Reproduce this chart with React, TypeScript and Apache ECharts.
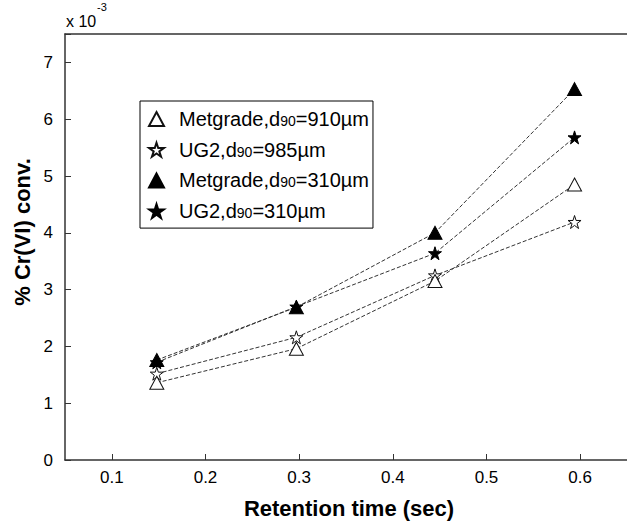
import React, { useEffect, useRef } from "react";
import * as echarts from "echarts";

// Retention time (sec) of each sample
const retentionTime = [0.148, 0.297, 0.445, 0.594];

// % Cr(VI) conversion, in units of 1e-3
const metgrade910 = [1.36, 1.96, 3.15, 4.85];
const ug2_985 = [1.52, 2.16, 3.25, 4.19];
const metgrade310 = [1.76, 2.69, 4.0, 6.53];
const ug2_310 = [1.72, 2.7, 3.64, 5.68];

const xTicks = [0.1, 0.2, 0.3, 0.4, 0.5, 0.6];

// legend pieces: material name and d90 size
const seriesNames = ["Metgrade", "UG2", "Metgrade", "UG2"];
const seriesSizes = ["910", "985", "310", "310"];

const FONT = "'Liberation Sans', Arial, Helvetica, sans-serif";
const STAR =
  "path://M0,-10 L2.245,-3.09 L9.51,-3.09 L3.633,1.18 L5.88,8.09 L0,3.82 L-5.88,8.09 L-3.633,1.18 L-9.51,-3.09 L-2.245,-3.09 Z";

const hollow = { color: "#fff", borderColor: "#111", borderWidth: 1 };
const filled = { color: "#000", borderColor: "#000", borderWidth: 1 };

export default function App() {
  const ref = useRef<HTMLDivElement>(null);

  useEffect(() => {
    if (!ref.current) return;
    const chart = echarts.init(ref.current, null, { renderer: "svg" });

    const label = (i: number) => `${seriesNames[i]},d90=${seriesSizes[i]}µm`;
    const values = [metgrade910, ug2_985, metgrade310, ug2_310];
    const symbols = ["triangle", STAR, "triangle", STAR];
    const styles = [hollow, hollow, filled, filled];
    const sizes = [[14, 13], [13, 13], [14, 13], [13, 13]];

    const series = values.map((vals, i) => ({
      name: label(i),
      type: "line",
      data: vals.map((v, j) => [retentionTime[j], v]),
      symbol: symbols[i],
      symbolSize: sizes[i],
      showAllSymbol: true,
      itemStyle: styles[i],
      lineStyle: { color: "#333", width: 1, type: [4, 2] },
      z: 10 - i,
    }));

    chart.setOption({
      animation: false,
      backgroundColor: "#fff",
      grid: { left: 65, top: 34, right: -4, bottom: 65 },
      xAxis: [
        {
          type: "value",
          min: 0.05,
          max: 0.65,
          axisLine: { show: true, lineStyle: { color: "#333", width: 1.5 } },
          axisTick: { show: true, inside: true, length: 6, customValues: xTicks, lineStyle: { color: "#333" } },
          axisLabel: {
            customValues: xTicks,
            formatter: (v: number) => v.toFixed(1),
            fontSize: 17,
            color: "#000",
            fontFamily: FONT,
            margin: 9,
          },
          splitLine: { show: false },
        },
        {
          type: "value",
          position: "top",
          min: 0.05,
          max: 0.65,
          axisLine: { show: true, onZero: false, lineStyle: { color: "#333", width: 1.5 } },
          axisTick: { show: false },
          axisLabel: { show: false },
          splitLine: { show: false },
        },
      ],
      yAxis: {
        type: "value",
        min: 0,
        max: 7.5,
        interval: 1,
        axisLine: { show: true, lineStyle: { color: "#333", width: 1.5 } },
        axisTick: { show: true, inside: true, length: 6, lineStyle: { color: "#333" } },
        axisLabel: {
          formatter: (v: number) => (Number.isInteger(v) ? String(v) : ""),
          fontSize: 17,
          color: "#000",
          fontFamily: FONT,
          margin: 12,
        },
        splitLine: { show: false },
      },
      legend: {
        orient: "vertical",
        left: 140,
        top: 101,
        backgroundColor: "#fff",
        borderColor: "#000",
        borderWidth: 1,
        padding: [7, 4, 6, 8],
        itemWidth: 15,
        itemHeight: 14,
        itemGap: 8.7,
        selectedMode: false,
        data: values.map((_, i) => ({ name: label(i), icon: symbols[i] })),
        formatter: (name: string) => {
          const i = values.findIndex((_, k) => label(k) === name);
          return `{p| }{a|${seriesNames[i]},d}{s|90}{a|=${seriesSizes[i]}µm}`;
        },
        textStyle: {
          fontFamily: FONT,
          color: "#000",
          lineHeight: 22,
          rich: {
            p: { width: 10, fontSize: 10 },
            a: { fontSize: 20, fontFamily: FONT, color: "#000", lineHeight: 22 },
            s: { fontSize: 14, fontFamily: FONT, color: "#000", lineHeight: 22, padding: [4, 0, 0, 0] },
          },
        },
      },
      graphic: [
        {
          type: "text",
          x: 349,
          y: 508,
          style: {
            text: "Retention time (sec)",
            fontSize: 22,
            fontWeight: "bold",
            fontFamily: FONT,
            fill: "#000",
            align: "center",
            verticalAlign: "middle",
          },
        },
        {
          type: "text",
          x: 22,
          y: 232,
          rotation: Math.PI / 2,
          style: {
            text: "% Cr(VI) conv.",
            fontSize: 22,
            fontWeight: "bold",
            fontFamily: FONT,
            fill: "#000",
            align: "center",
            verticalAlign: "middle",
          },
        },
        {
          type: "text",
          x: 66,
          y: 21,
          style: {
            text: "x 10",
            fontSize: 16,
            fontFamily: FONT,
            fill: "#000",
            align: "left",
            verticalAlign: "middle",
          },
        },
        {
          type: "text",
          x: 97,
          y: 7,
          style: {
            text: "-3",
            fontSize: 11,
            fontFamily: FONT,
            fill: "#000",
            align: "left",
            verticalAlign: "middle",
          },
        },
      ],
      series,
    });

    return () => chart.dispose();
  }, []);

  return (
    <div
      ref={ref}
      style={{ position: "absolute", left: 0, top: 0, width: 627, height: 525 }}
    />
  );
}
